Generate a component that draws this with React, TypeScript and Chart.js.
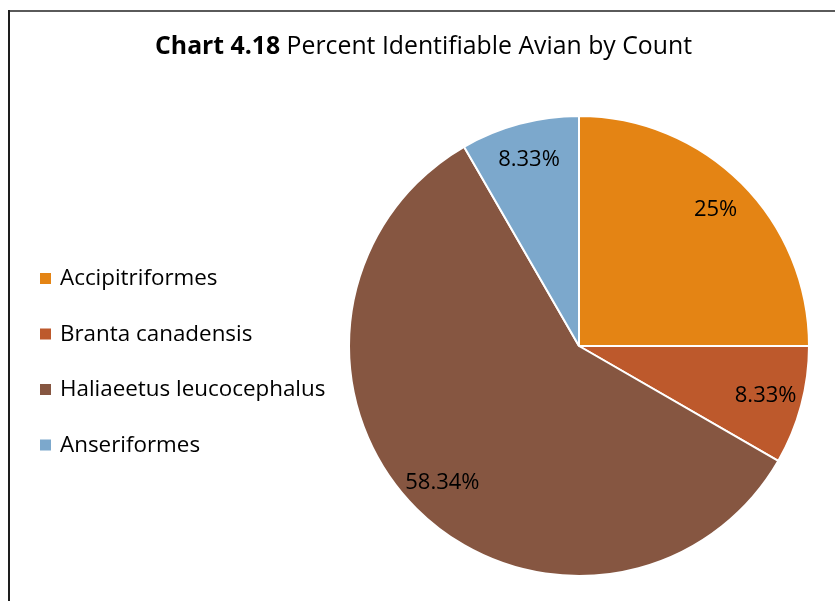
import React, { useEffect, useRef } from "react";
import { Chart, registerables } from "chart.js";

Chart.register(...registerables);

const categories = ["Accipitriformes", "Branta canadensis", "Haliaeetus leucocephalus", "Anseriformes"];
const percentValues = [25, 8.33, 58.34, 8.33];
const percentLabels = ["25%", "8.33%", "58.34%", "8.33%"];
const sliceColors = ["#E48414", "#BD592C", "#865641", "#7CA8CC"];
const titleBold = "Chart 4.18";
const titleRest = " Percent Identifiable Avian by Count";

const FONT = "'Open Sans', 'Noto Sans', sans-serif";

const framePlugin = {
  id: "frame",
  beforeDraw(chart: any) {
    const ctx = chart.ctx;
    ctx.save();
    ctx.fillStyle = "#ffffff";
    ctx.fillRect(0, 0, chart.width, chart.height);
    ctx.lineWidth = 2;
    ctx.strokeStyle = "#5a5a5a";
    ctx.beginPath();
    ctx.moveTo(8, 11);
    ctx.lineTo(chart.width, 11);
    ctx.stroke();
    ctx.strokeStyle = "#1e1e1e";
    ctx.beginPath();
    ctx.moveTo(9, 10);
    ctx.lineTo(9, chart.height);
    ctx.stroke();
    ctx.restore();
  },
};

const titlePlugin = {
  id: "customTitle",
  afterDraw(chart: any) {
    const ctx = chart.ctx;
    ctx.save();
    ctx.fillStyle = "#000000";
    ctx.textBaseline = "alphabetic";
    const boldFont = "bold 24.8px " + FONT;
    const normFont = "24.8px " + FONT;
    ctx.font = boldFont;
    const w1 = ctx.measureText(titleBold).width;
    ctx.font = normFont;
    const w2 = ctx.measureText(titleRest).width;
    const cx = 423.5;
    const x0 = cx - (w1 + w2) / 2;
    const y = 54;
    ctx.font = boldFont;
    ctx.textAlign = "left";
    ctx.fillText(titleBold, x0, y);
    ctx.font = normFont;
    ctx.fillText(titleRest, x0 + w1, y);
    ctx.restore();
  },
};

const legendPlugin = {
  id: "customLegend",
  afterDraw(chart: any) {
    const ctx = chart.ctx;
    const labels = chart.data.labels as string[];
    const colors = chart.data.datasets[0].backgroundColor as string[];
    ctx.save();
    ctx.font = "22.4px " + FONT;
    ctx.textBaseline = "middle";
    ctx.textAlign = "left";
    const startY = 278;
    const step = 55.5;
    labels.forEach((lab, i) => {
      const y = startY + i * step;
      ctx.fillStyle = colors[i];
      ctx.fillRect(40, y - 5, 11, 11);
      ctx.fillStyle = "#000000";
      ctx.fillText(lab, 60, y + 1);
    });
    ctx.restore();
  },
};

const sliceLabelPlugin = {
  id: "sliceLabels",
  afterDatasetsDraw(chart: any) {
    const ctx = chart.ctx;
    const meta = chart.getDatasetMeta(0);
    ctx.save();
    ctx.font = "22px " + FONT;
    ctx.fillStyle = "#000000";
    ctx.textAlign = "center";
    ctx.textBaseline = "middle";
    meta.data.forEach((arc: any, i: number) => {
      const p = arc.getProps(["x", "y", "startAngle", "endAngle", "outerRadius"], true);
      const mid = (p.startAngle + p.endAngle) / 2;
      const r = p.outerRadius * 0.84;
      ctx.fillText(percentLabels[i], p.x + Math.cos(mid) * r, p.y + Math.sin(mid) * r);
    });
    ctx.restore();
  },
};

export default function App() {
  const ref = useRef<HTMLCanvasElement | null>(null);
  useEffect(() => {
    if (!ref.current) return;
    const chart = new Chart(ref.current, {
      type: "pie",
      data: {
        labels: categories,
        datasets: [
          {
            data: percentValues,
            backgroundColor: sliceColors,
            borderColor: "#ffffff",
            borderWidth: 2,
          },
        ],
      },
      options: {
        animation: false,
        responsive: false,
        maintainAspectRatio: false,
        layout: { padding: { top: 115, bottom: 24, left: 348, right: 25 } },
        plugins: {
          legend: { display: false },
          title: { display: false },
          tooltip: { enabled: false },
        },
      },
      plugins: [framePlugin, titlePlugin, legendPlugin, sliceLabelPlugin],
    });
    return () => chart.destroy();
  }, []);
  return (
    <div style={{ position: "fixed", left: 0, top: 0, width: 835, height: 601, background: "#fff" }}>
      <canvas ref={ref} width={835} height={601} style={{ width: 835, height: 601, display: "block" }} />
    </div>
  );
}
